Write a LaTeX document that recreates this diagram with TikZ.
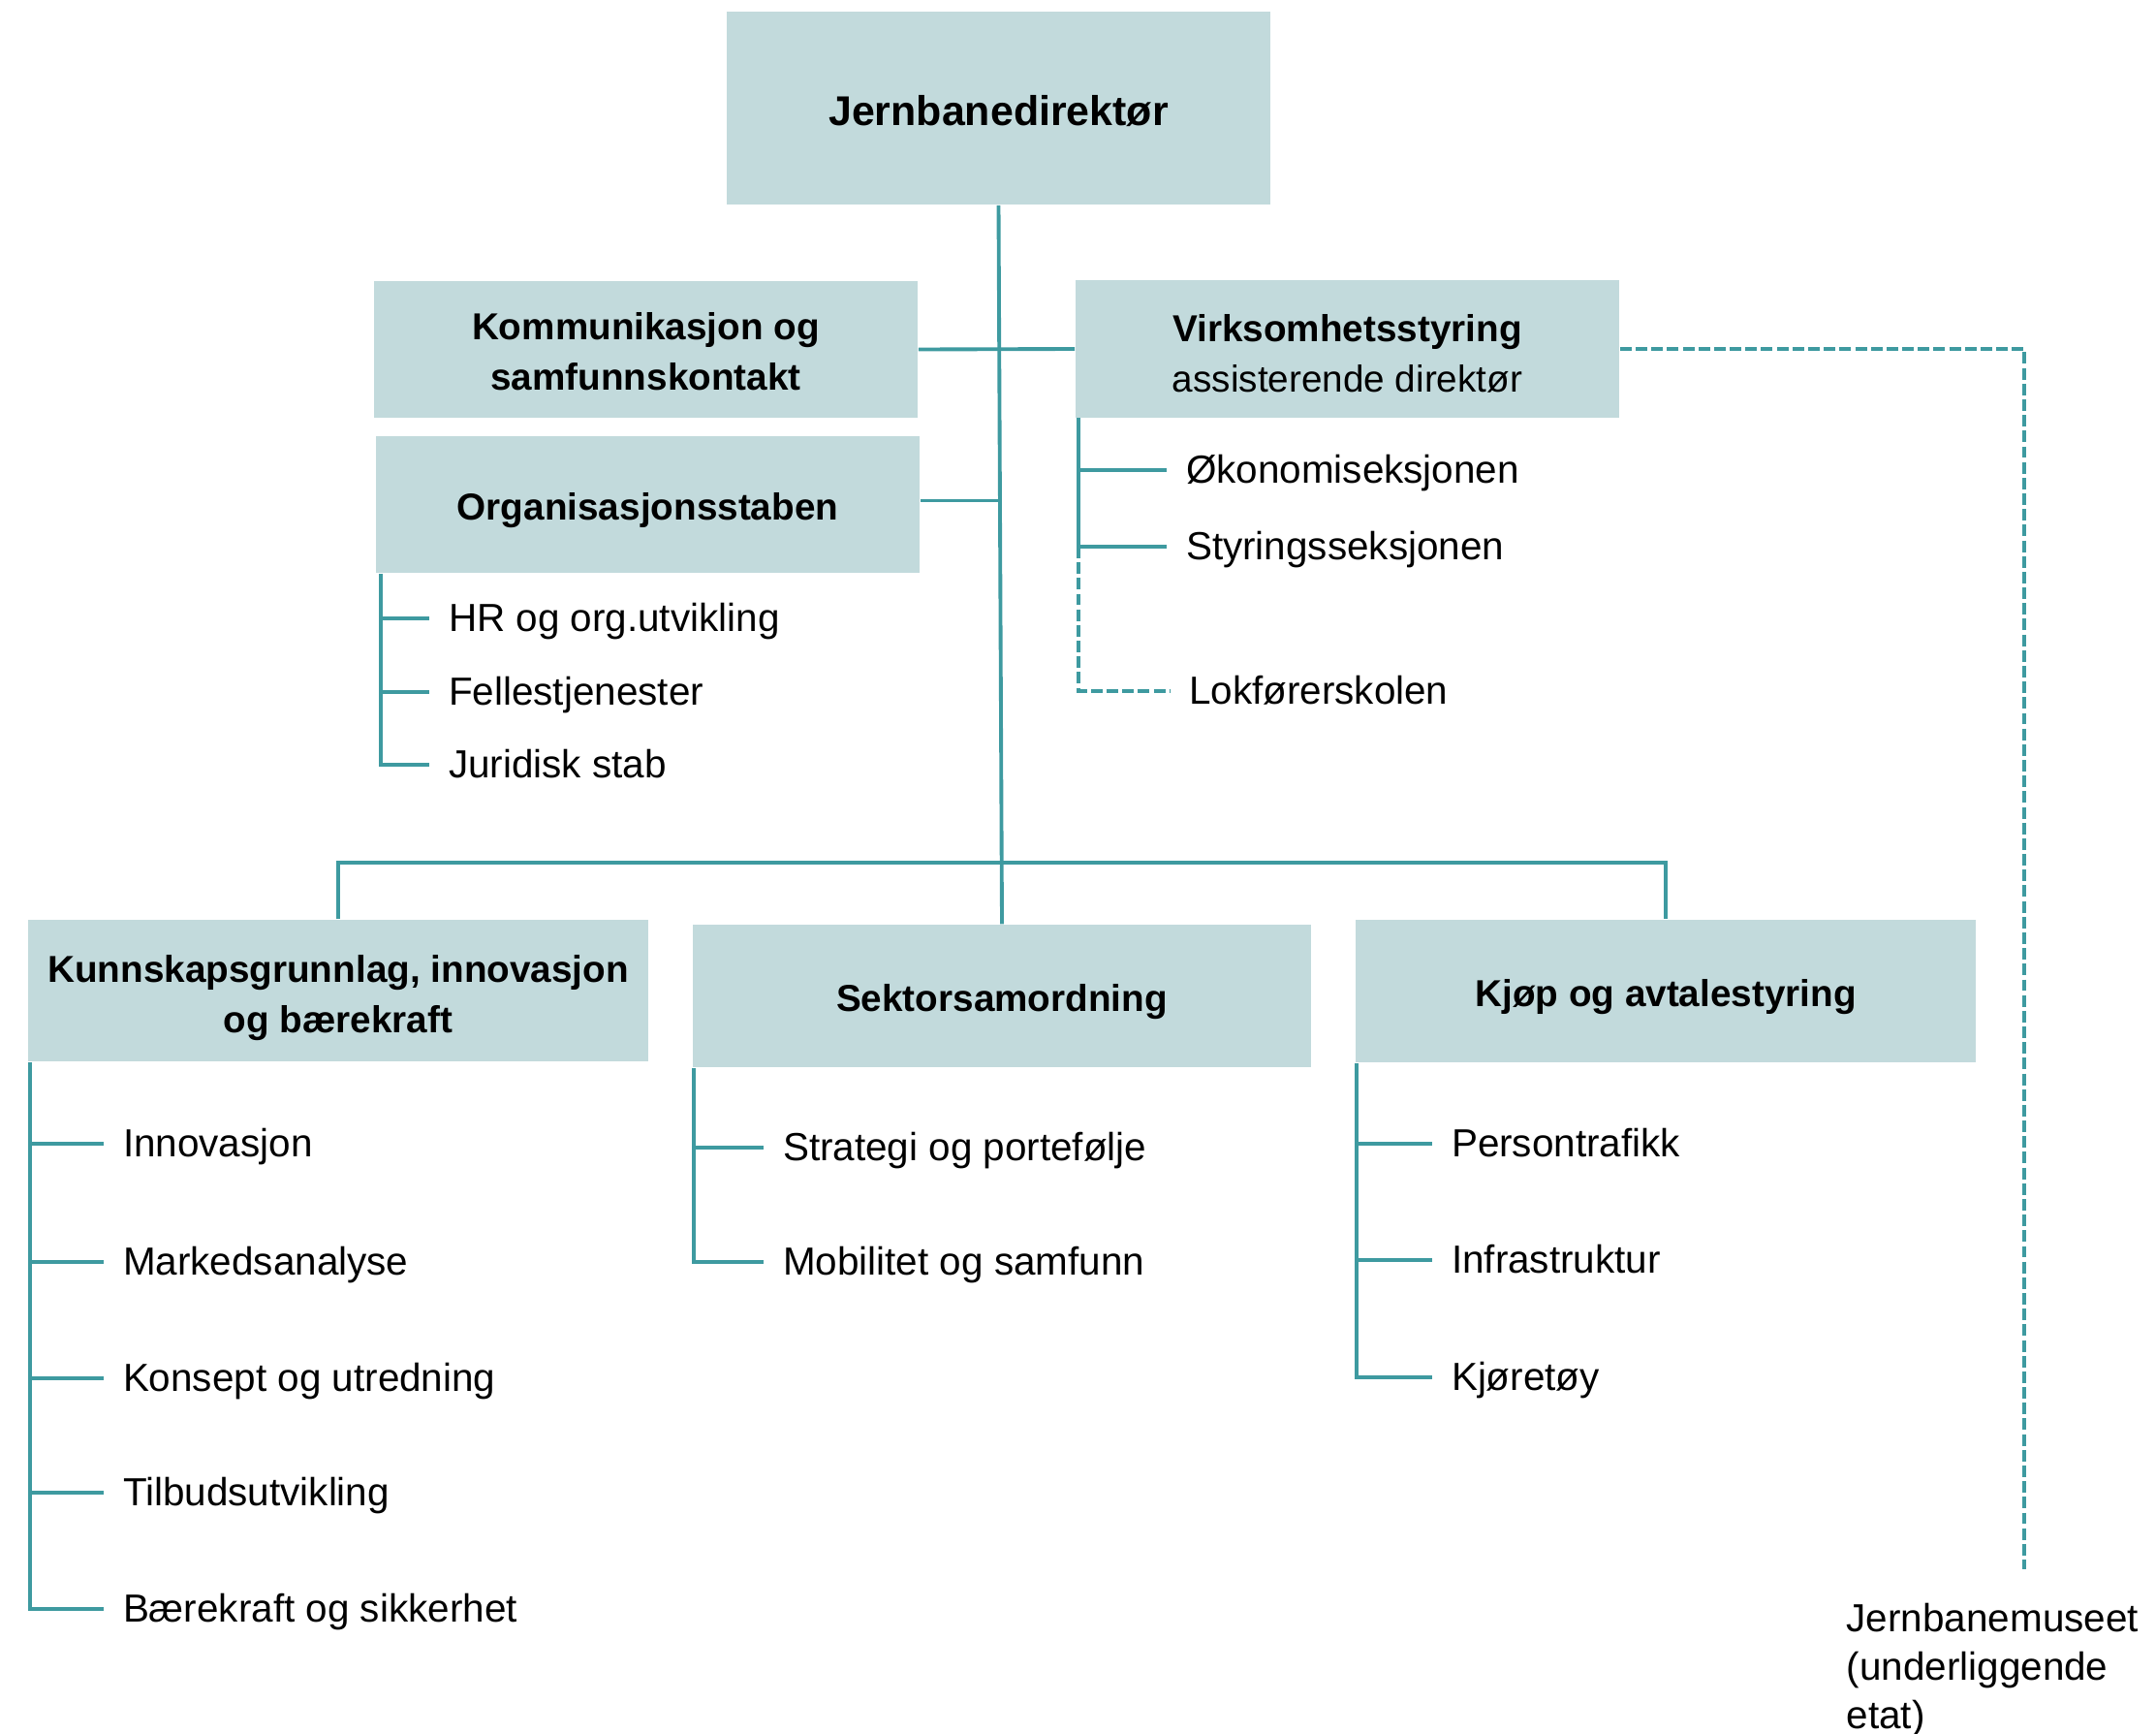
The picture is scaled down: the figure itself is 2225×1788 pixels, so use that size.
\documentclass[tikz,border=0pt]{standalone}
\usepackage{fontspec}
\setmainfont{Liberation Sans}
\usetikzlibrary{positioning,calc}
\definecolor{boxfill}{HTML}{C2DADC}
\definecolor{linecol}{HTML}{3E9AA0}
\newcommand{\lift}[1]{\rule{0pt}{#1}}

\begin{document}
\begin{tikzpicture}[x=0.01cm,y=-0.01cm,
  unit/.style={fill=boxfill,inner sep=0pt,align=center,minimum width=5.61cm,minimum height=1.41cm,font=\fontsize{11}{14.8}\selectfont\bfseries},
  dept/.style={unit,minimum width=6.4cm,minimum height=1.47cm},
  item/.style={anchor=west,inner sep=0pt,outer xsep=0.2cm,text height=0.76em,text depth=0pt,font=\fontsize{11.5}{14.2}\selectfont},
  conn/.style={draw=linecol,line width=1.1pt},
  dashconn/.style={conn,dash pattern=on 3.4pt off 1.2pt}]
\useasboundingbox (0,0) rectangle (2225,1788);
% director and staff units
\node[unit,minimum height=1.99cm,font=\fontsize{12.2}{14.8}\selectfont\bfseries] (dir) at (1030.5,111.5) {\lift{10.7pt}Jernbanedirektør};
\node[unit] (komm) at (666.5,360.5) {\lift{9.4pt}Kommunikasjon og\\samfunnskontakt};
\node[unit] (org) at (668.5,520.5) {\lift{11.5pt}Organisasjonsstaben};
\node[unit] (virk) at (1390.5,360) {\lift{10.8pt}Virksomhetsstyring\\{\mdseries assisterende direktør}};
% divisions
\node[dept,minimum height=1.46cm] (kunn) at (349,1022) {\lift{12.5pt}Kunnskapsgrunnlag, innovasjon\\og bærekraft};
\node[dept,minimum width=6.38cm] (sekt) at (1034,1027.5) {\lift{11.5pt}Sektorsamordning};
\node[dept] (kjop) at (1719,1022.5) {\lift{11.5pt}Kjøp og avtalestyring};
% sections
\foreach \nm/\yy/\txt in {hr/638/HR og org.utvikling,felles/714/Fellestjenester,jur/789/Juridisk stab}
  {\node[item] (\nm) at (443,\yy) {\txt};}
\foreach \nm/\yy/\txt in {okon/485/Økonomiseksjonen,styr/564/Styringsseksjonen}
  {\node[item] (\nm) at (1204,\yy) {\txt};}
\node[item] (lok) at (1207,713) {Lokførerskolen};
\foreach \nm/\yy/\txt in {innov/1180/Innovasjon,marked/1302/Markedsanalyse,konsept/1422/Konsept og utredning,tilbud/1540/Tilbudsutvikling,baere/1660/Bærekraft og sikkerhet}
  {\node[item] (\nm) at (107,\yy) {\txt};}
\foreach \nm/\yy/\txt in {strat/1184/Strategi og portefølje,mobil/1302/Mobilitet og samfunn}
  {\node[item] (\nm) at (788,\yy) {\txt};}
\foreach \nm/\yy/\txt in {pers/1180/Persontrafikk,infra/1300/Infrastruktur,kjoret/1421/Kjøretøy}
  {\node[item] (\nm) at (1478,\yy) {\txt};}
\node[anchor=west,inner sep=0pt,align=left,font=\fontsize{11.5}{14.2}\selectfont] (museum) at (1905,1723) {Jernbanemuseet\\(underliggende\\etat)};
% main lines
\draw[conn] (dir.south) -- (sekt.north);
\draw[conn] (komm.east) -- (virk.west);
\draw[conn] ([yshift=0.04cm]org.east) -- ([yshift=0.04cm]org.east -| dir.south);
\draw[conn] (kunn.north) -- ++(0,-58) -| (kjop.north);
% staff sections
\coordinate (orgspine) at ([xshift=0.06cm]org.south west);
\draw[conn] (orgspine) |- (jur.west);
\foreach \nm in {hr,felles} {\draw[conn] (orgspine |- \nm.west) -- (\nm.west);}
\coordinate (virkspine) at ([xshift=0.04cm]virk.south west);
\draw[conn] (virkspine) |- (styr.west);
\draw[conn] (virkspine |- okon.west) -- (okon.west);
\draw[dashconn] (virkspine |- styr.west) |- (lok.west);
% division sections
\coordinate (kunnspine) at ([xshift=0.03cm]kunn.south west);
\draw[conn] (kunnspine) |- (baere.west);
\foreach \nm in {innov,marked,konsept,tilbud} {\draw[conn] (kunnspine |- \nm.west) -- (\nm.west);}
\coordinate (sektspine) at ([xshift=0.02cm]sekt.south west);
\draw[conn] (sektspine) |- (mobil.west);
\draw[conn] (sektspine |- strat.west) -- (strat.west);
\coordinate (kjopspine) at ([xshift=0.02cm]kjop.south west);
\draw[conn] (kjopspine) |- (kjoret.west);
\foreach \nm in {pers,infra} {\draw[conn] (kjopspine |- \nm.west) -- (\nm.west);}
% subordinate agency
\coordinate (musetop) at (2089,1619);
\draw[dashconn] (virk.east) -| (musetop);
\end{tikzpicture}
\end{document}
